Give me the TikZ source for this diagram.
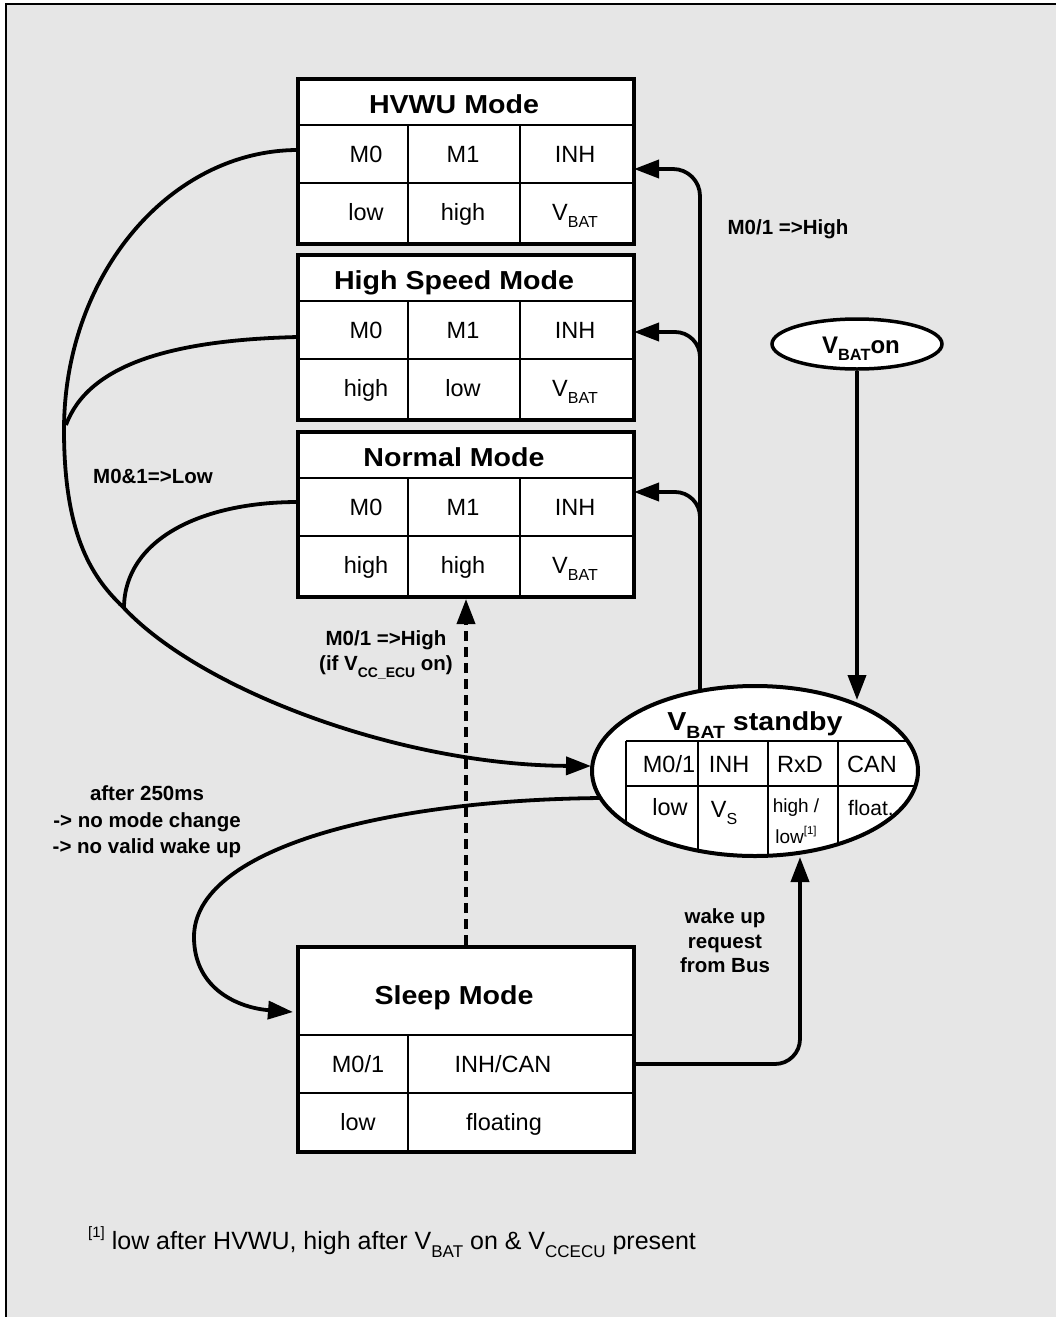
\documentclass[tikz,border=0pt]{standalone}
\usepackage{fontspec}
\setmainfont{Liberation Sans}
\newfontfamily\ttlfont{Liberation Sans}[FakeStretch=1.1]
\usetikzlibrary{arrows.meta,shapes.geometric}
\definecolor{bggray}{HTML}{E6E6E6}
\newcommand\sbs[1]{\raisebox{-0.32em}{\scalebox{0.68}{#1}}}
\newcommand\sps[1]{\raisebox{0.45em}{\scalebox{0.6}{#1}}}
\newcommand\cellfont{\fontsize{23.5}{27}\selectfont}
\newcommand\ttlsize{\ttlfont\bfseries\fontsize{26}{30}\selectfont}
\newcommand\lblfont{\bfseries\fontsize{20.5}{25}\selectfont}
\tikzset{
  frame/.style={draw, fill=white, line width=4pt, rectangle, inner sep=0pt, anchor=north west},
  inner/.style={line width=1.5pt},
  cell/.style={font=\cellfont, inner sep=0pt, anchor=base},
  ttl/.style={font=\ttlsize, inner sep=0pt, anchor=base},
  lbl/.style={font=\lblfont, inner sep=0pt, align=center},
  conn/.style={line width=3.8pt, -{Triangle[length=25pt,width=18pt]}},
  wire/.style={line width=3.8pt},
}
\newcommand\modebox[9]{%
  \node[frame, minimum width=336pt, minimum height=165pt] (#1) at (296,#2) {};
  \draw[inner] (296,#2+48) -- (632,#2+48) (296,#2+106) -- (632,#2+106)
               (408,#2+48) -- (408,#2+165) (520,#2+48) -- (520,#2+165);
  \node[ttl] (#1-t) at (454,#2+36) {#3};
  \node[cell] (#1-a) at (366,#2+85) {#4};
  \node[cell] (#1-b) at (463,#2+85) {#5};
  \node[cell] (#1-c) at (575,#2+85) {#6};
  \node[cell] (#1-d) at (366,#2+143) {#7};
  \node[cell] (#1-e) at (463,#2+143) {#8};
  \node[cell] (#1-f) at (575,#2+143) {#9};
}
\begin{document}
\begin{tikzpicture}[x=1pt,y=-1pt]
\useasboundingbox (0,0) rectangle (1056,1317);
\fill[bggray] (6,4) rectangle (1056,1317);
\draw[line width=2pt] (6,1317) -- (6,4) -- (1056,4);

% mode boxes
\modebox{hvwu}{77}{HVWU Mode}{M0}{M1}{INH}{low}{high}{V\sbs{BAT}}
\modebox{hs}{253}{High Speed Mode}{M0}{M1}{INH}{high}{low}{V\sbs{BAT}}
\modebox{nm}{430}{Normal Mode}{M0}{M1}{INH}{high}{high}{V\sbs{BAT}}

% sleep box
\node[frame, minimum width=336pt, minimum height=205pt] (sleep) at (296,945) {};
\draw[inner] (296,1035) -- (632,1035) (296,1093) -- (632,1093) (408,1035) -- (408,1150);
\node[ttl] (sleep-t) at (454,1004) {Sleep Mode};
\node[cell] (sleep-a) at (358,1072) {M0/1};
\node[cell] (sleep-b) at (503,1072) {INH/CAN};
\node[cell] (sleep-c) at (358,1130) {low};
\node[cell] (sleep-d) at (504,1130) {floating};

% VBAT standby ellipse
\fill[white] (755,771) ellipse [x radius=163, y radius=85];
\begin{scope}
  \clip (755,771) ellipse [x radius=163, y radius=85];
  \draw[inner] (626,741) -- (930,741) (626,786) -- (930,786)
               (626,741) -- (626,880) (698,741) -- (698,880)
               (768,741) -- (768,880) (838,741) -- (838,880);
\end{scope}
\node[draw, ellipse, line width=4pt, minimum width=326pt, minimum height=170pt, inner sep=0pt] (stby) at (755,771) {};
\node[ttl] (stby-t) at (755,730) {V\sbs{BAT} standby};
\node[cell] (stby-a) at (669,772) {M0/1};
\node[cell] (stby-b) at (729,772) {INH};
\node[cell] (stby-c) at (800,772) {RxD};
\node[cell] (stby-d) at (872,772) {CAN};
\node[cell] (stby-e) at (670,815) {low};
\node[cell] (stby-f) at (724,817) {V\sbs{S}};
\node[cell, font=\fontsize{19}{22}\selectfont] (stby-g) at (796,812) {high /};
\node[cell, font=\fontsize{19}{22}\selectfont] (stby-h) at (796,843) {low\sps{[1]}};
\node[cell, font=\fontsize{21}{24}\selectfont] (stby-i) at (871,815) {float.};

% VBAT on ellipse
\node[draw, ellipse, fill=white, line width=3.5pt, minimum width=170pt, minimum height=50pt, inner sep=0pt] (von) at (857,344) {};
\node[inner sep=0pt, anchor=base, font=\bfseries\fontsize{24}{28}\selectfont] (von-t) at (861,353) {V\sbs{BAT}on};

% coordinates on borders
\coordinate (vin) at (857,700);
\coordinate (upS) at (700,691);
\coordinate (hvIn) at (634,169);
\coordinate (hsIn) at (634,332);
\coordinate (nmIn) at (634,492);
\coordinate (brHs) at (700,364);
\coordinate (brNm) at (700,522);
\coordinate (slOut) at (634,1064);
\coordinate (stbyB) at (800,857);
\coordinate (stbyL) at (591,766);
\coordinate (stbyLo) at (601,798);
\coordinate (slIn) at (293,1012);
\coordinate (hvOut) at (298,150);
\coordinate (hsOut) at (298,337);
\coordinate (nmOut) at (298,502);

% connectors
\draw[conn] (von.south) -- (vin);
\draw[conn, rounded corners=27pt] (upS) |- (hvIn);
\draw[conn, rounded corners=25pt] (brHs) |- (hsIn);
\draw[conn, rounded corners=25pt] (brNm) |- (nmIn);
\draw[conn, rounded corners=25pt] (slOut) -| (stbyB);
\draw[conn, dash pattern=on 10pt off 6pt] (sleep.north) -- (nm.south);
\draw[conn] (hvOut) .. controls (170,150) and (64,275) .. (64,430)
            .. controls (64,540) and (95,580) .. (123,607)
            .. controls (200,690) and (400,765) .. (stbyL);
\draw[wire] (hsOut) .. controls (170,340) and (88,365) .. (66,425);
\draw[wire] (nmOut) .. controls (200,502) and (125,540) .. (124,607);
\draw[conn] (stbyLo) .. controls (380,800) and (194,850) .. (194,937)
            .. controls (194,990) and (240,1008) .. (slIn);

% labels
\node[lbl] (l1) at (788,229) {M0/1 =>High};
\node[lbl] (l2) at (153,476) {M0\&1=>Low};
\node[lbl] (l3) at (386,655) {M0/1 =>High\\(if V\sbs{CC\_ECU} on)};
\node[lbl, font=\bfseries\fontsize{20.5}{26.5}\selectfont] (l4) at (147,822) {after 250ms\\-> no mode change\\-> no valid wake up};
\node[lbl, font=\bfseries\fontsize{20.5}{24.5}\selectfont] (l5) at (725,941) {wake up\\request\\from Bus};

% footnote
\node[anchor=base west, inner sep=0pt, font=\fontsize{25}{29}\selectfont] (fn) at (88,1249)
  {\sps{[1]} low after HVWU, high after V\sbs{BAT} on \& V\sbs{CCECU} present};
\end{tikzpicture}
\end{document}
